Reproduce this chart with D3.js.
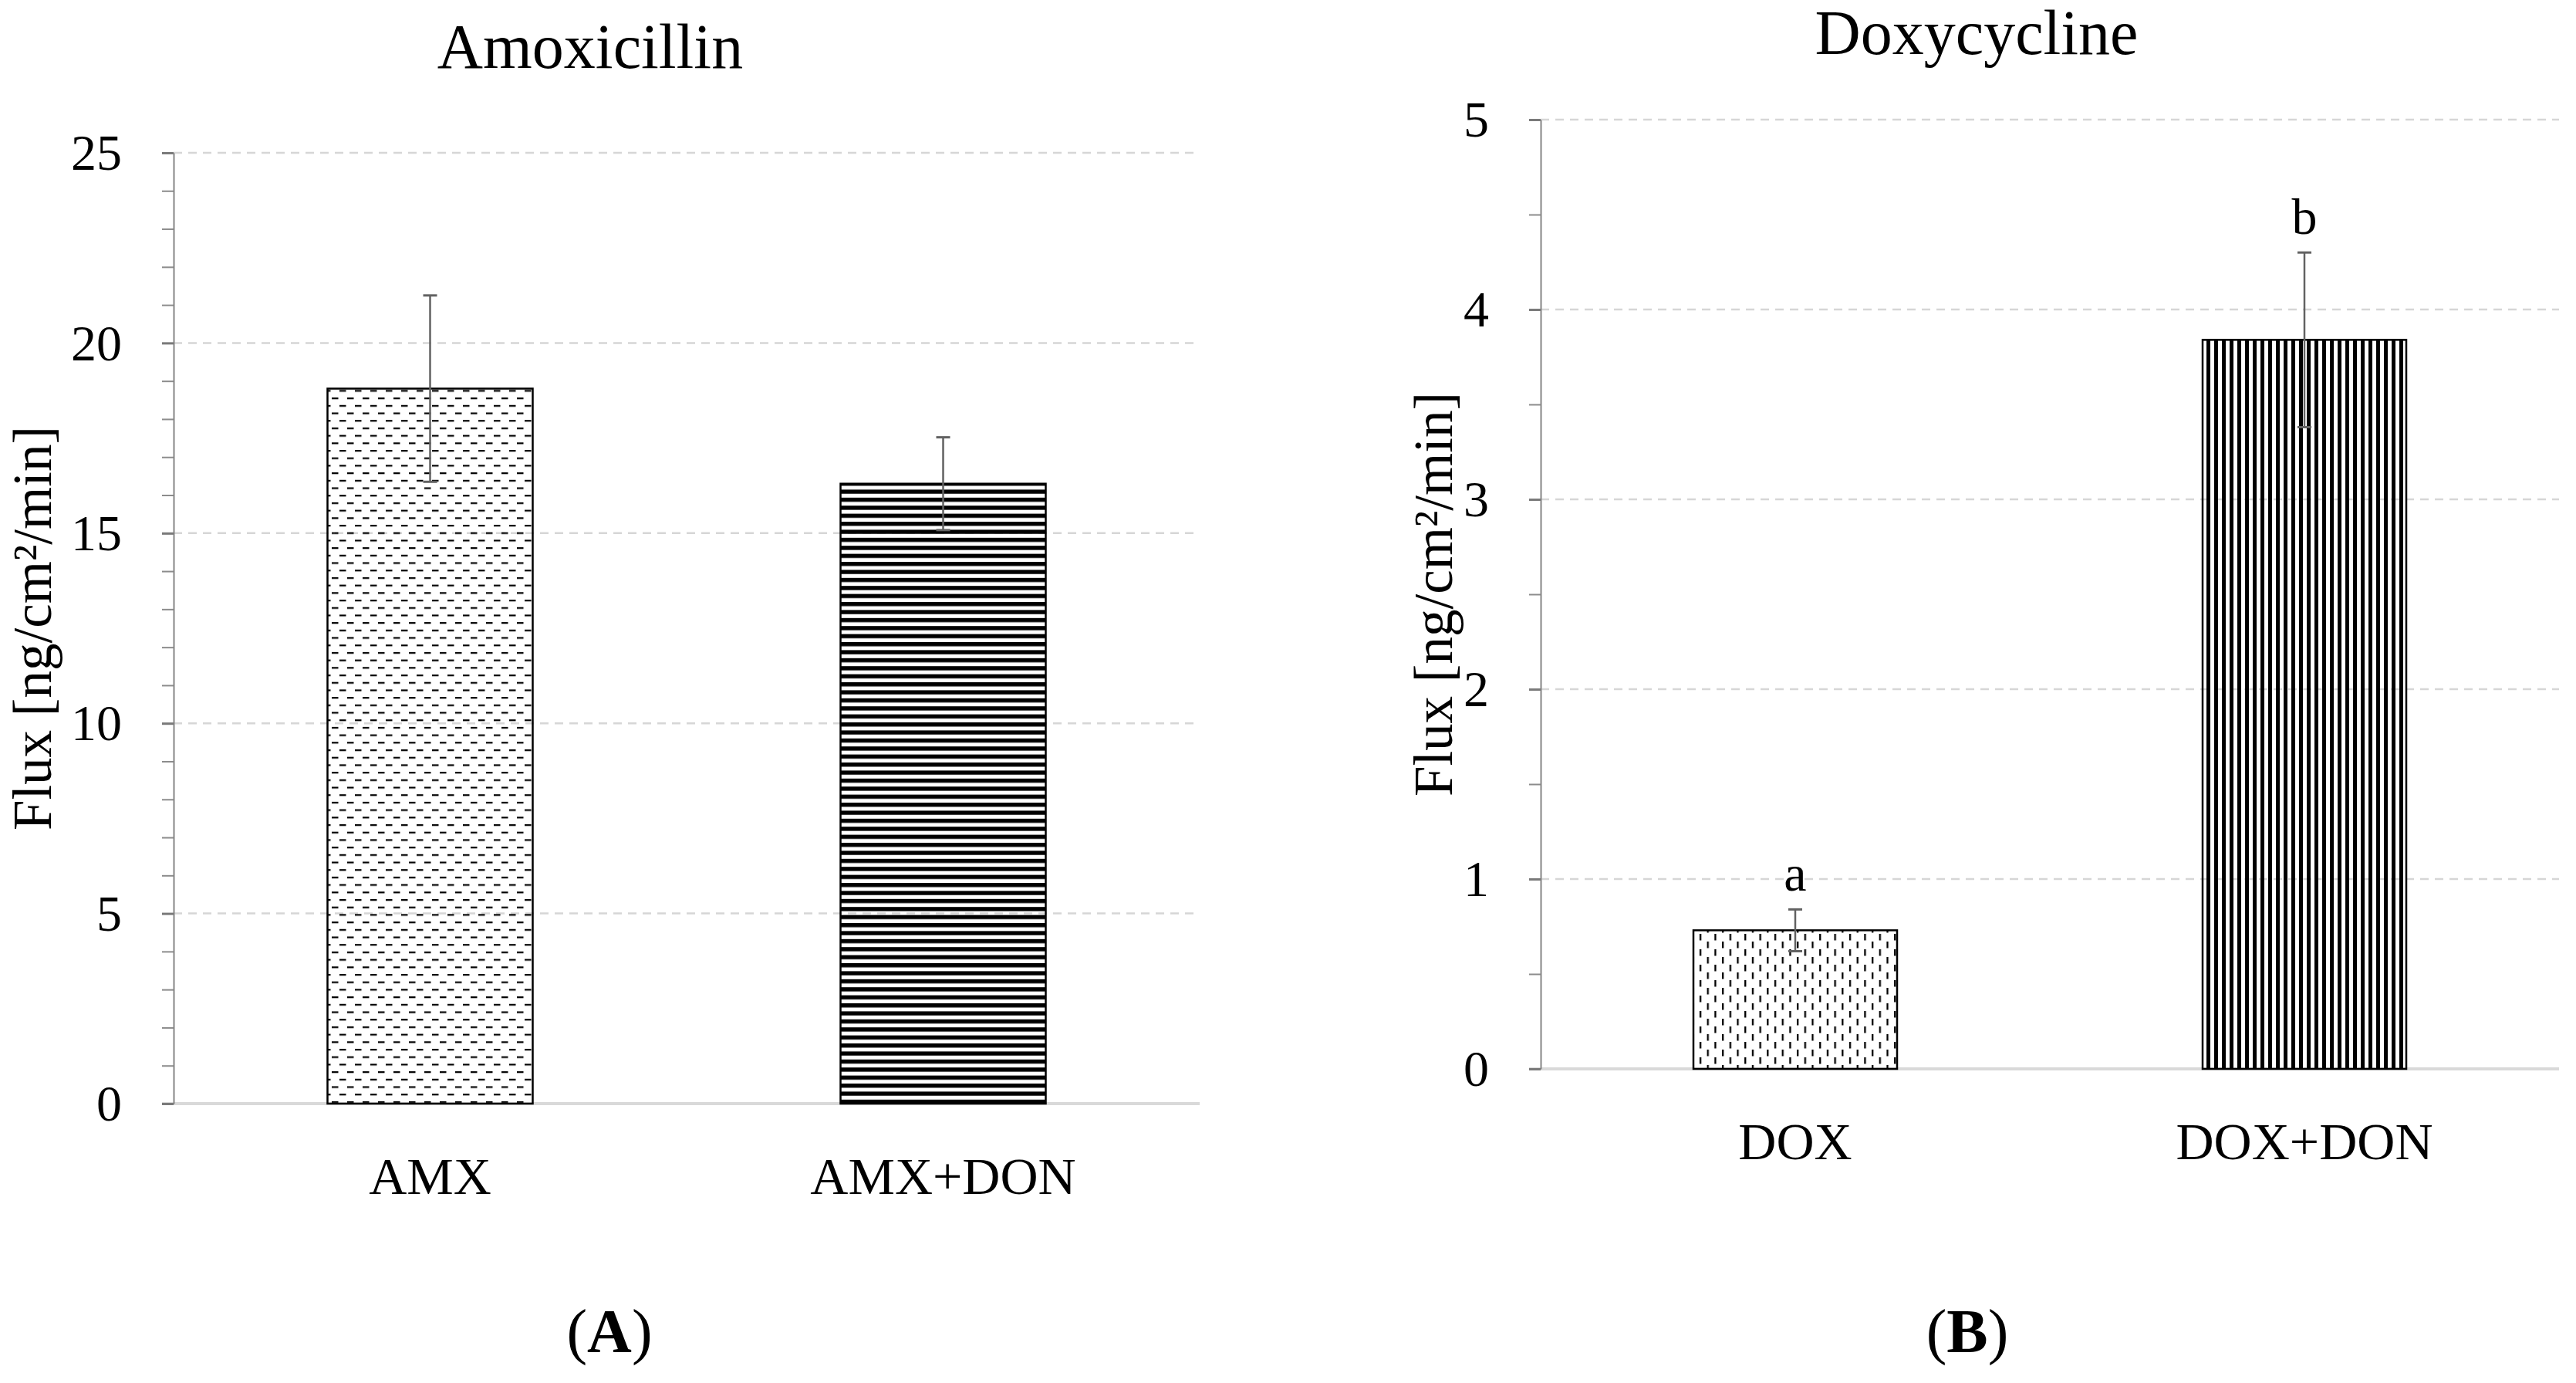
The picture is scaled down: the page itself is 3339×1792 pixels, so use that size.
<!DOCTYPE html>
<html>
<head>
<meta charset="utf-8">
<title>Flux - Amoxicillin / Doxycycline</title>
<style>
  body { margin: 0; background: #fff; }
  svg { display: block; }
  text { font-family: "Liberation Serif", "Times New Roman", serif; fill: #000; }
</style>
</head>
<body>
<svg width="3339" height="1792"></svg>
<script src="https://d3js.org/d3.v7.min.js"></script>
<script>

// panel A data
var amxCategories = ["AMX", "AMX+DON"];
var amxMeans = [18.8, 16.3];
var amxErrors = [2.45, 1.22];
var amxTicks = [0, 5, 10, 15, 20, 25];
var amxMinorTicks = d3.range(0, 26, 1);

// panel B data
var doxCategories = ["DOX", "DOX+DON"];
var doxMeans = [0.73, 3.84];
var doxErrors = [0.11, 0.46];
var doxLetters = ["a", "b"];
var doxTicks = [0, 1, 2, 3, 4, 5];
var doxMinorTicks = d3.range(0, 5.01, 0.5);

var svg = d3.select("svg");

// hatch patterns
var defs = svg.append("defs");

var p1 = defs.append("pattern").attr("id", "dashH")
    .attr("patternUnits", "userSpaceOnUse").attr("width", 20).attr("height", 19.4);
p1.append("rect").attr("x", 0).attr("y", 1).attr("width", 8.5).attr("height", 2.2).attr("fill", "#000");
p1.append("rect").attr("x", 10).attr("y", 10.7).attr("width", 8.5).attr("height", 2.2).attr("fill", "#000");

var p2 = defs.append("pattern").attr("id", "stripeH")
    .attr("patternUnits", "userSpaceOnUse").attr("width", 10).attr("height", 10.4);
p2.append("rect").attr("x", 0).attr("y", 0).attr("width", 10).attr("height", 5.4).attr("fill", "#000");

var p3 = defs.append("pattern").attr("id", "dashV")
    .attr("patternUnits", "userSpaceOnUse").attr("width", 19.4).attr("height", 20);
p3.append("rect").attr("x", 1).attr("y", 0).attr("width", 2.3).attr("height", 8.5).attr("fill", "#000");
p3.append("rect").attr("x", 10.7).attr("y", 10).attr("width", 2.3).attr("height", 8.5).attr("fill", "#000");

var p4 = defs.append("pattern").attr("id", "stripeV")
    .attr("patternUnits", "userSpaceOnUse").attr("width", 10).attr("height", 10);
p4.append("rect").attr("x", 0).attr("y", 0).attr("width", 5).attr("height", 10).attr("fill", "#000");

function drawPanel(cfg) {
  var x = d3.scaleBand()
      .domain(cfg.categories)
      .range([cfg.left, cfg.right])
      .paddingInner(0.6)
      .paddingOuter(0.3);

  var y = d3.scaleLinear()
      .domain([0, d3.max(cfg.ticks)])
      .range([cfg.bottom, cfg.top]);

  var g = svg.append("g");

  // dashed gridlines
  g.selectAll(".grid")
    .data(cfg.ticks.filter(function(t) { return t > 0; }))
    .enter().append("line")
      .attr("x1", cfg.left).attr("x2", cfg.right)
      .attr("y1", function(d) { return y(d); })
      .attr("y2", function(d) { return y(d); })
      .attr("stroke", "#d6d6d6")
      .attr("stroke-width", 2.5)
      .attr("stroke-dasharray", "11 8");

  // baseline
  g.append("line")
      .attr("x1", cfg.left - 15).attr("x2", cfg.right)
      .attr("y1", y(0)).attr("y2", y(0))
      .attr("stroke", "#d9d9d9")
      .attr("stroke-width", 4);

  // minor ticks
  var minor = g.append("g")
      .attr("transform", "translate(" + cfg.left + ",0)")
      .call(d3.axisLeft(y).tickValues(cfg.minor).tickSize(15).tickFormat(""));
  minor.select(".domain").remove();
  minor.selectAll("line").attr("stroke", "#8c8c8c").attr("stroke-width", 2);

  // major axis
  var ax = g.append("g")
      .attr("transform", "translate(" + cfg.left + ",0)")
      .call(d3.axisLeft(y).tickValues(cfg.ticks).tickFormat(d3.format("d"))
        .tickSize(15).tickSizeOuter(0).tickPadding(cfg.tickPad));
  ax.select(".domain").attr("stroke", "#868686").attr("stroke-width", 2);
  ax.selectAll(".tick line").attr("stroke", "#7a7a7a").attr("stroke-width", 3);
  ax.selectAll(".tick text")
      .style("font-family", "'Liberation Serif', serif")
      .style("font-size", "66px")
      .attr("fill", "#000")
      .attr("dy", "0.33em");

  // bars
  var bw = x.bandwidth();
  g.selectAll(".bar")
    .data(cfg.means)
    .enter().append("rect")
      .attr("x", function(d, i) { return x(cfg.categories[i]); })
      .attr("y", function(d) { return y(d); })
      .attr("width", bw)
      .attr("height", function(d) { return y(0) - y(d); })
      .attr("fill", function(d, i) { return "url(#" + cfg.fills[i] + ")"; })
      .attr("stroke", "#000")
      .attr("stroke-width", 2.5);

  // error bars
  var eb = g.selectAll(".err")
    .data(cfg.means)
    .enter().append("g")
      .attr("transform", function(d, i) { return "translate(" + (x(cfg.categories[i]) + bw / 2) + ",0)"; });
  eb.append("line")
      .attr("y1", function(d, i) { return y(d - cfg.errors[i]); })
      .attr("y2", function(d, i) { return y(d + cfg.errors[i]); })
      .attr("stroke", "#626262").attr("stroke-width", 2.5);
  eb.append("line")
      .attr("x1", -9).attr("x2", 9)
      .attr("y1", function(d, i) { return y(d + cfg.errors[i]); })
      .attr("y2", function(d, i) { return y(d + cfg.errors[i]); })
      .attr("stroke", "#626262").attr("stroke-width", 3);
  eb.append("line")
      .attr("x1", -9).attr("x2", 9)
      .attr("y1", function(d, i) { return y(d - cfg.errors[i]); })
      .attr("y2", function(d, i) { return y(d - cfg.errors[i]); })
      .attr("stroke", "#626262").attr("stroke-width", 3);

  if (cfg.letters) {
    eb.append("text")
        .attr("text-anchor", "middle")
        .attr("y", function(d, i) { return y(d + cfg.errors[i]) - 24; })
        .style("font-size", "66px")
        .text(function(d, i) { return cfg.letters[i]; });
  }

  // category labels
  g.selectAll(".cat")
    .data(cfg.categories)
    .enter().append("text")
      .attr("x", function(d) { return x(d) + bw / 2; })
      .attr("y", y(0) + 117)
      .attr("text-anchor", "middle")
      .style("font-size", "68px")
      .text(function(d) { return d; });

  // title
  g.append("text")
      .attr("x", cfg.titleX).attr("y", cfg.titleY)
      .attr("text-anchor", "middle")
      .style("font-size", "82px")
      .text(cfg.title);

  // y axis title
  g.append("text")
      .attr("transform", "translate(" + cfg.yTitleX + "," + (cfg.top + cfg.bottom) / 2 + ") rotate(-90)")
      .attr("text-anchor", "middle")
      .style("font-size", "71px")
      .text("Flux [ng/cm²/min]");

  // panel letter
  var pl = g.append("text")
      .attr("x", cfg.panelX).attr("y", 1752)
      .attr("text-anchor", "middle")
      .style("font-size", "80px");
  pl.append("tspan").text("(");
  pl.append("tspan").style("font-weight", "bold").text(cfg.panel);
  pl.append("tspan").text(")");
}

drawPanel({
  categories: amxCategories, means: amxMeans, errors: amxErrors,
  ticks: amxTicks, minor: amxMinorTicks,
  fills: ["dashH", "stripeH"],
  left: 225, right: 1555, top: 198, bottom: 1430,
  tickPad: 52, title: "Amoxicillin", titleX: 765, titleY: 88,
  yTitleX: 66, panel: "A", panelX: 790
});

drawPanel({
  categories: doxCategories, means: doxMeans, errors: doxErrors,
  ticks: doxTicks, minor: doxMinorTicks, letters: doxLetters,
  fills: ["dashV", "stripeV"],
  left: 1997, right: 3317, top: 155, bottom: 1385,
  tickPad: 52, title: "Doxycycline", titleX: 2562, titleY: 70,
  yTitleX: 1882, panel: "B", panelX: 2550
});

</script>
</body>
</html>
